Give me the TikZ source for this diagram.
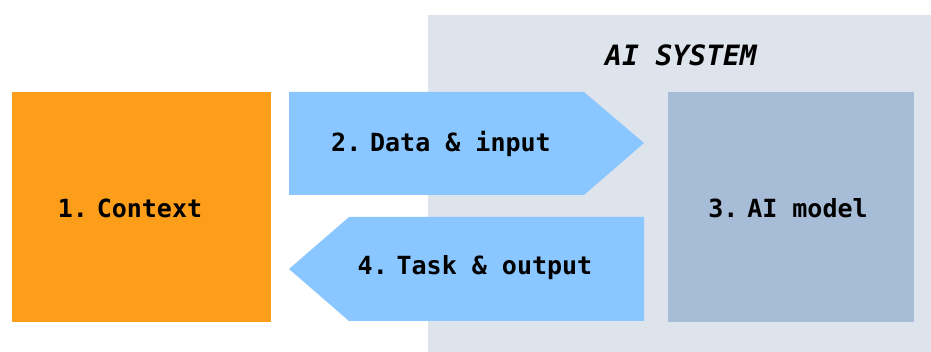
\documentclass[tikz,border=0pt]{standalone}
\usepackage{fontspec}
\setmonofont{DejaVu Sans Mono}
\begin{document}
\begin{tikzpicture}[x=1pt,y=-1pt,
  lbl/.style={font=\ttfamily\bfseries\fontsize{25}{28}\selectfont, text=black, inner sep=0pt, anchor=center},
  ttl/.style={font=\ttfamily\bfseries\itshape\fontsize{28}{30}\selectfont, text=black, inner sep=0pt, anchor=center}]
\definecolor{ctxorange}{RGB}{253,158,27}
\definecolor{arrowblue}{RGB}{138,198,255}
\definecolor{modelblue}{RGB}{167,188,215}
\definecolor{sysgray}{RGB}{221,228,236}
\useasboundingbox (0,0) rectangle (931,352);
\fill[white] (0,0) rectangle (931,352);
% AI system background
\fill[sysgray] (428,15) rectangle (931,352);
\node[ttl] (sys) at (681,55) {AI SYSTEM};
% context box
\fill[ctxorange] (12,92) rectangle (271,322);
\node[lbl] (ctx) at (130,208) {1.\kern-0.25em\ Context};
% AI model box
\fill[modelblue] (668,92) rectangle (914,322);
\node[lbl] (model) at (788,208) {3.\kern-0.25em\ AI model};
% arrow 2
\fill[arrowblue] (289,92) -- (584,92) -- (644,143) -- (584,195) -- (289,195) -- cycle;
\node[lbl] (data) at (441,144) {2.\kern-0.25em\ Data \& input};
% arrow 4
\fill[arrowblue] (644,217) -- (644,321) -- (349,321) -- (289,269) -- (349,217) -- cycle;
\node[lbl] (task) at (475,268) {4.\kern-0.25em\ Task \& output};
\end{tikzpicture}
\end{document}
